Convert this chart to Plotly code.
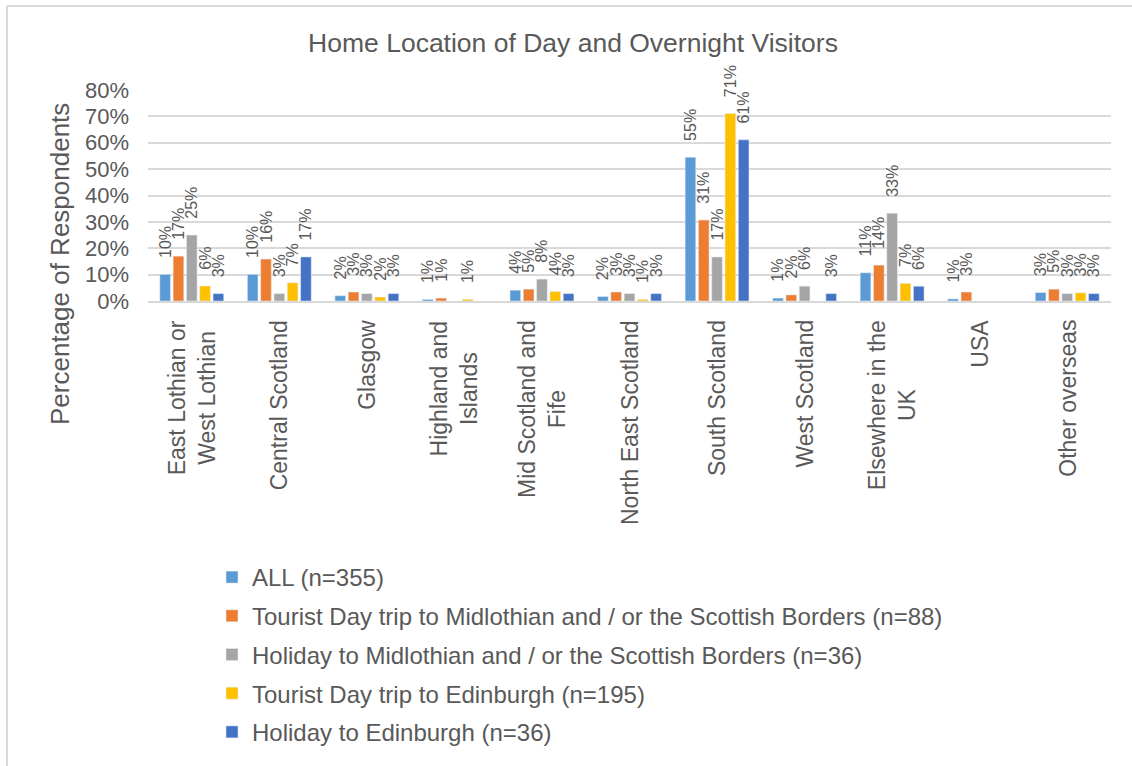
import plotly.graph_objects as go

categories = [
    "East Lothian or<br>West Lothian", "Central Scotland", "Glasgow",
    "Highland and<br>Islands", "Mid Scotland and<br>Fife", "North East Scotland",
    "South Scotland", "West Scotland", "Elsewhere in the<br>UK", "USA", "Other overseas",
]

series_names = [
    "ALL (n=355)",
    "Tourist Day trip to Midlothian and / or the Scottish Borders (n=88)",
    "Holiday to Midlothian and / or the Scottish Borders (n=36)",
    "Tourist Day trip to Edinburgh (n=195)",
    "Holiday to Edinburgh (n=36)",
]

all_vals = [10.1, 10.1, 2.0, 0.6, 4.1, 1.7, 54.5, 1.1, 10.7, 0.8, 3.2]
daytrip_mid = [17.0, 15.9, 3.4, 1.1, 4.5, 3.4, 30.7, 2.3, 13.6, 3.4, 4.5]
holiday_mid = [25.0, 2.8, 2.8, None, 8.3, 2.8, 16.7, 5.6, 33.3, None, 2.8]
daytrip_edi = [5.7, 6.9, 1.5, 0.6, 3.6, 0.6, 71.1, None, 6.7, None, 3.1]
holiday_edi = [2.8, 16.7, 2.8, None, 2.8, 2.8, 61.1, 2.8, 5.6, None, 2.8]

series_values = [all_vals, daytrip_mid, holiday_mid, daytrip_edi, holiday_edi]
colors = ["#5B9BD5", "#ED7D31", "#A5A5A5", "#FFC000", "#4472C4"]

y_ticks = [0, 10, 20, 30, 40, 50, 60, 70, 80]
y_ticktext = [f"{t}%" for t in y_ticks]

FONT = "Liberation Sans, Arial, sans-serif"
TXT = "#595959"

fig = go.Figure()
for name, vals, col in zip(series_names, series_values, colors):
    labels = [("\u00a0\u00a0\u00a0" + f"{int(v + 0.5)}%") if v else "" for v in vals]
    fig.add_trace(go.Bar(
        x=categories, y=vals, name=name, marker_color=col,
        text=labels, textposition="outside", textangle=-90,
        constraintext="none", cliponaxis=False,
        textfont=dict(family=FONT, size=16, color=TXT),
        legendgroup=name,
    ))

# pixel -> paper helpers (plot area: x 148..1111, y 90..301)
def px(x):
    return (x - 148) / 963

def py(y):
    return (301 - y) / 211

annotations = [dict(text="Percentage of Respondents", textangle=-90,
                    x=px(60), y=py(264), xref="paper", yref="paper",
                    showarrow=False, xanchor="center", yanchor="middle",
                    font=dict(family=FONT, size=26, color=TXT))]
for c in categories:
    annotations.append(dict(text=c, textangle=-90, x=c, xref="x",
                            y=py(318), yref="paper", showarrow=False,
                            xanchor="center", yanchor="top", align="center",
                            font=dict(family=FONT, size=23, color=TXT)))

fig.update_layout(
    width=1132, height=766,
    margin=dict(l=148, r=21, t=90, b=465),
    paper_bgcolor="white", plot_bgcolor="white",
    barmode="group", bargap=0.24, bargroupgap=0.2,
    font=dict(family=FONT, color=TXT),
    title=dict(text="Home Location of Day and Overnight Visitors",
               x=0.5 + 7 / 1132, xref="container", xanchor="center",
               y=1 - 43 / 766, yref="container", yanchor="middle",
               font=dict(family=FONT, size=26.5, color=TXT)),
    xaxis=dict(showticklabels=False,
               showline=True, linecolor="#D9D9D9", linewidth=1.5,
               showgrid=False, ticks=""),
    yaxis=dict(range=[0, 80], tickvals=y_ticks, ticktext=y_ticktext,
               tickfont=dict(family=FONT, size=22, color=TXT),
               showgrid=True, gridcolor="#D9D9D9", gridwidth=1.5,
               zeroline=False, showline=False, ticks="", ticklabelstandoff=18),
    legend=dict(x=px(212), y=py(555), xanchor="left", yanchor="top",
                font=dict(family=FONT, size=24, color=TXT),
                traceorder="grouped", tracegroupgap=4.5,
                bgcolor="rgba(0,0,0,0)"),
    annotations=annotations,
    shapes=[
        dict(type="line", xref="paper", yref="paper", x0=px(7), x1=px(1132),
             y0=py(6), y1=py(6), line=dict(color="#D9D9D9", width=2)),
        dict(type="line", xref="paper", yref="paper", x0=px(7), x1=px(7),
             y0=py(6), y1=py(766), line=dict(color="#D9D9D9", width=2)),
    ],
)

fig.write_html("out.html", config={"displayModeBar": False},
               post_script="document.body.style.margin='0';document.body.style.overflow='hidden';")
